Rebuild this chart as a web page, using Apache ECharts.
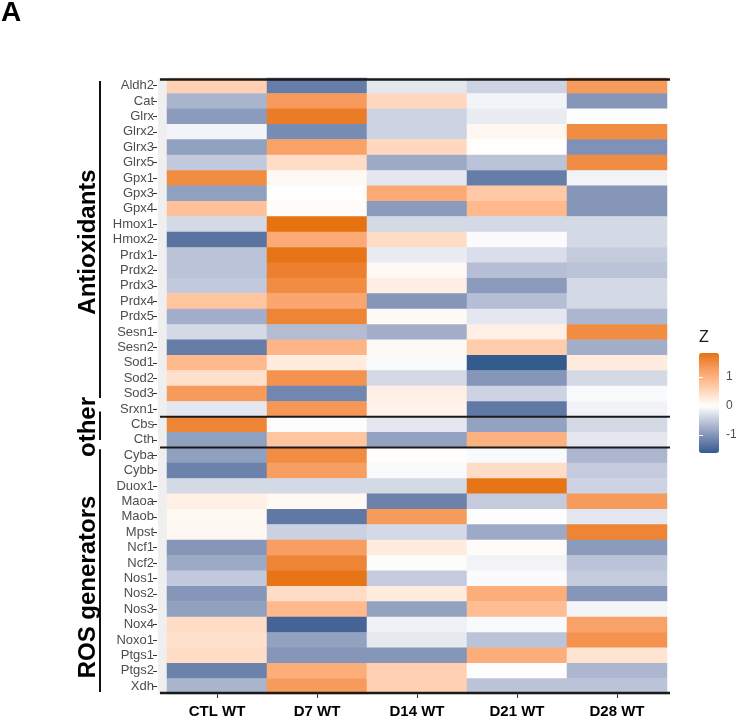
<!DOCTYPE html>
<html>
<head>
<meta charset="utf-8">
<script src="https://cdn.jsdelivr.net/npm/echarts@6/dist/echarts.min.js"></script>
<style>
html,body{margin:0;padding:0;background:#fff;}
#c{width:740px;height:719px;}
</style>
</head>
<body>
<div id="c"></div>
<script>
const genes = ['Aldh2','Cat','Glrx','Glrx2','Glrx3','Glrx5','Gpx1','Gpx3','Gpx4','Hmox1','Hmox2','Prdx1','Prdx2','Prdx3','Prdx4','Prdx5','Sesn1','Sesn2','Sod1','Sod2','Sod3','Srxn1',
  'Cbs','Cth',
  'Cyba','Cybb','Duox1','Maoa','Maob','Mpst','Ncf1','Ncf2','Nos1','Nos2','Nos3','Nox4','Noxo1','Ptgs1','Ptgs2','Xdh'];
const conditions = ['CTL WT','D7 WT','D14 WT','D21 WT','D28 WT'];
const groups = ['Antioxidants','other','ROS generators'];

const ctl = [0.6,-0.7,-0.95,-0.1,-0.9,-0.5,1.5,-0.9,0.8,-0.35,-1.35,-0.55,-0.55,-0.5,0.75,-0.75,-0.35,-1.25,0.9,0.4,1.3,-0.22,
  1.6,-0.9,
  -0.9,-1.2,-0.35,0.2,0.08,0.1,-1.0,-0.8,-0.5,-1.0,-0.9,0.45,0.4,0.45,-1.2,-0.7];
const d7 = [-1.25,1.3,1.7,-1.1,1.2,0.45,0.07,0.02,0.05,1.83,1.1,1.8,1.65,1.5,1.15,1.6,-0.62,0.95,0.25,1.4,-1.15,1.35,
  0.0,0.75,
  1.5,1.25,-0.35,0.08,-1.3,-0.42,1.25,1.6,1.8,0.45,0.9,-1.5,-0.88,-1.0,1.05,1.3];
const d14 = [-0.22,0.5,-0.4,-0.4,0.5,-0.8,-0.22,1.1,-0.95,-0.35,0.45,-0.17,0.07,0.22,-1.0,0.07,-0.75,0.07,-0.05,-0.35,0.2,0.15,
  -0.22,-0.88,
  0.02,-0.05,-0.35,-1.2,1.3,-0.35,0.25,-0.02,-0.48,0.25,-0.88,-0.13,-0.2,-1.0,0.6,0.6];
const d21 = [-0.4,-0.1,-0.17,0.1,0.02,-0.55,-1.25,0.7,0.9,-0.35,-0.03,-0.3,-0.6,-0.95,-0.6,-0.22,0.2,0.65,-1.62,-1.0,-0.4,-1.3,
  -0.88,1.0,
  -0.05,0.45,1.8,-0.48,0.0,-0.8,0.05,-0.11,-0.03,1.05,0.85,-0.05,-0.55,1.05,0.0,-0.55];
const d28 = [1.3,-1.0,0.0,1.5,-1.05,1.5,-0.11,-1.0,-1.0,-0.35,-0.35,-0.48,-0.55,-0.35,-0.35,-0.68,1.5,-0.75,0.25,-0.35,-0.05,-0.11,
  -0.35,-0.22,
  -0.68,-0.48,-0.4,1.3,-0.22,1.6,-0.95,-0.55,-0.48,-1.0,-0.09,1.2,1.4,0.35,-0.68,-0.55];
const legendTicks = [-1, 0, 1];
const zMin = -1.62, zMax = 1.83;

(function () {
const columns = [ctl, d7, d14, d21, d28];
const cells = [];
columns.forEach((col, ci) => col.forEach((v, gi) => cells.push([ci, gi, v])));

// CIELAB interpolation (like ggplot's gradient2)
const Xn = 0.95047, Yn = 1, Zn = 1.08883;
function lin(c) { c /= 255; return c <= 0.04045 ? c / 12.92 : Math.pow((c + 0.055) / 1.055, 2.4); }
function delin(c) { c = c <= 0.0031308 ? 12.92 * c : 1.055 * Math.pow(c, 1 / 2.4) - 0.055; return Math.max(0, Math.min(255, Math.round(c * 255))); }
function f(t) { return t > 0.008856 ? Math.cbrt(t) : 7.787 * t + 16 / 116; }
function finv(t) { return t > 0.206893 ? t * t * t : (t - 16 / 116) / 7.787; }
function rgb2lab(rgb) {
  const r = lin(rgb[0]), g = lin(rgb[1]), b = lin(rgb[2]);
  const X = 0.4124 * r + 0.3576 * g + 0.1805 * b, Y = 0.2126 * r + 0.7152 * g + 0.0722 * b, Z = 0.0193 * r + 0.1192 * g + 0.9505 * b;
  const fx = f(X / Xn), fy = f(Y / Yn), fz = f(Z / Zn);
  return [116 * fy - 16, 500 * (fx - fy), 200 * (fy - fz)];
}
function lab2rgb(lab) {
  const fy = (lab[0] + 16) / 116, fx = fy + lab[1] / 500, fz = fy - lab[2] / 200;
  const X = Xn * finv(fx), Y = Yn * finv(fy), Z = Zn * finv(fz);
  const r = 3.2406 * X - 1.5372 * Y - 0.4986 * Z, g = -0.9689 * X + 1.8758 * Y + 0.0415 * Z, b = 0.0557 * X - 0.2040 * Y + 1.0570 * Z;
  return [delin(r), delin(g), delin(b)];
}
const HIGH = rgb2lab([230, 114, 16]), LOW = [30, 4, -37], MID = [100, 0, 0];
const ext = Math.max(Math.abs(zMin), Math.abs(zMax));
function colAt(v) {
  let t = Math.max(-1, Math.min(1, v / ext));
  const end = t >= 0 ? HIGH : LOW; t = Math.abs(t);
  const c = lab2rgb(MID.map((m, i) => m + (end[i] - m) * t));
  return 'rgb(' + c.join(',') + ')';
}
const stops = [];
const N = 80;
for (let i = 0; i <= N; i++) stops.push(colAt(zMin + (zMax - zMin) * i / N));

const chart = echarts.init(document.getElementById('c'), null, {renderer: 'canvas'});
const FONT = 'Liberation Sans, Arial, sans-serif';
const option = {
  backgroundColor: '#fff',
  animation: false,
  textStyle: {fontFamily: FONT},
  grid: [
    {left: 167, width: 500, top: 78, height: 616},
    {left: 699, width: 20, top: 353, height: 100}
  ],
  xAxis: [
    {type: 'category', data: conditions, gridIndex: 0, position: 'bottom',
     axisLine: {show: false}, splitLine: {show: false},
     axisTick: {show: true, alignWithLabel: true, length: 4, lineStyle: {color: '#333'}},
     axisLabel: {fontSize: 15, fontWeight: 'bold', color: '#000', margin: 10, fontFamily: FONT}},
    {type: 'value', gridIndex: 1, min: 0, max: 1, show: false}
  ],
  yAxis: [
    {type: 'category', data: genes, gridIndex: 0, inverse: true, offset: 10,
     axisLine: {show: false}, splitLine: {show: false},
     axisTick: {show: true, alignWithLabel: true, interval: 0, length: 4, lineStyle: {color: '#333'}},
     axisLabel: {interval: 0, fontSize: 13, color: '#4D4D4D', margin: 3, fontFamily: FONT}},
    {type: 'value', gridIndex: 1, min: zMin, max: zMax, position: 'right', z: 10,
     axisLine: {show: false}, splitLine: {show: false},
     axisTick: {show: true, inside: true, length: 4, lineStyle: {color: '#fff', width: 1}, customValues: legendTicks},
     axisLabel: {show: true, customValues: legendTicks, fontSize: 12, color: '#4D4D4D', margin: 7, fontFamily: FONT}},
    {type: 'value', gridIndex: 1, min: zMin, max: zMax, position: 'left', z: 10,
     axisLine: {show: false}, splitLine: {show: false},
     axisTick: {show: true, inside: true, length: 4, lineStyle: {color: '#fff', width: 1}, customValues: legendTicks},
     axisLabel: {show: false}}
  ],
  visualMap: {
    type: 'continuous', min: zMin, max: zMax, seriesIndex: 0, dimension: 2,
    calculable: false, orient: 'vertical', left: 699, top: 353,
    itemWidth: 20, itemHeight: 100, padding: 0, text: null, z: 2,
    inRange: {color: stops}
  },
  series: [
    {type: 'heatmap', xAxisIndex: 0, yAxisIndex: 0, data: cells,
     itemStyle: {borderWidth: 0}, emphasis: {disabled: true}, progressive: 0},
    {type: 'scatter', xAxisIndex: 1, yAxisIndex: 1, data: [], silent: true}
  ]
};
chart.setOption(option);

const yc = gname => chart.convertToPixel({gridIndex: 0}, [0, gname])[1];
const xc = c => chart.convertToPixel({gridIndex: 0}, [c, 0])[0];
const rowH = yc(genes[1]) - yc(genes[0]);
const colW = xc(conditions[1]) - xc(conditions[0]);
const pTop = yc(genes[0]) - rowH / 2;
const pBottom = yc(genes[genes.length - 1]) + rowH / 2;
const pLeft = xc(conditions[0]) - colW / 2;
const pRight = xc(conditions[conditions.length - 1]) + colW / 2;
const lineX1 = pLeft - 7, lineX2 = pRight + 3;
const g = [];
g.push({type: 'rect', shape: {x: pLeft - 9, y: pTop, width: 9, height: pBottom - pTop}, style: {fill: '#EFEFEF'}, z: 0});
function hline(y, w) {
  g.push({type: 'line', shape: {x1: lineX1, y1: y, x2: lineX2, y2: y}, style: {stroke: '#1a1a1a', lineWidth: w}, z: 50});
}
hline(pTop + 1.5, 2.5);
hline(pBottom - 1, 2.5);
hline((yc('Srxn1') + yc('Cbs')) / 2, 2);
hline((yc('Cth') + yc('Cyba')) / 2, 2);
const brackets = [[pTop + 3, yc('Srxn1') - 11], [yc('Cbs') - 13, yc('Cth')], [yc('Cyba') - 6, pBottom - 2]];
const titleY = [242, 427, 587];
brackets.forEach((b, i) => {
  g.push({type: 'line', shape: {x1: 100, y1: b[0], x2: 100, y2: b[1]}, style: {stroke: '#111', lineWidth: 2}, z: 50});
  g.push({type: 'text', x: 88, y: titleY[i], rotation: Math.PI / 2, z: 50,
    style: {text: groups[i], fontSize: 24, fontWeight: 'bold', fill: '#000', fontFamily: FONT,
      align: 'center', verticalAlign: 'middle'}});
});
g.push({type: 'text', x: 699, y: 338, z: 50,
  style: {text: 'Z', fontSize: 16, fill: '#1a1a1a', fontFamily: FONT, align: 'left', verticalAlign: 'middle'}});
g.push({type: 'text', x: 1, y: -1, z: 50,
  style: {text: 'A', fontSize: 28, fontWeight: 'bold', fill: '#000', fontFamily: FONT, align: 'left', verticalAlign: 'top'}});
chart.setOption({graphic: g});
})();
</script>
</body>
</html>
